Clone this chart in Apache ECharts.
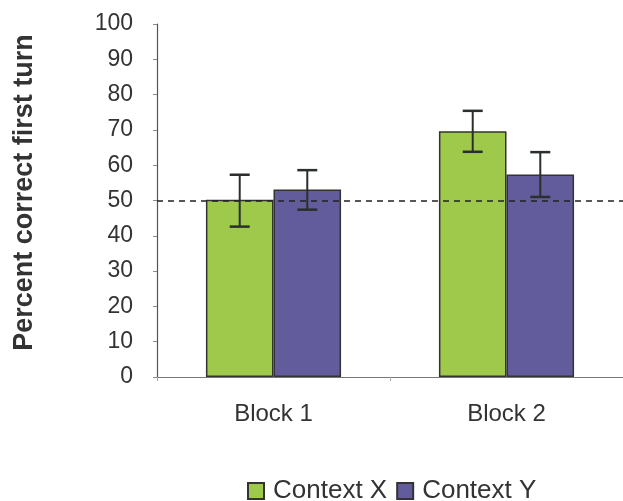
<!DOCTYPE html>
<html>
<head>
<meta charset="utf-8">
<script src="https://cdn.jsdelivr.net/npm/echarts@6/dist/echarts.min.js"></script>
<style>
  html, body { margin: 0; padding: 0; background: #fff; }
  #chart { width: 623px; height: 501px; }
</style>
</head>
<body>
<div id="chart"></div>
<script>
const categories = ['Block 1', 'Block 2']
const seriesNames = ['Context X', 'Context Y']
const contextX = [50.2, 69.6]
const contextY = [53.1, 57.4]
// error bar low / high per category
const contextXLow = [42.6, 63.8]
const contextXHigh = [57.3, 75.4]
const contextYLow = [47.4, 51.0]
const contextYHigh = [58.6, 63.7]
const chanceLevel = 50

const green = '#9fc94b'
const purple = '#625c9c'
const font = 'Liberation Sans, Arial, sans-serif'

const BAR_GAP_CAT = 0.42 // barCategoryGap share

function errorSeries(name, low, high, side) {
  return {
    name: name + ' err',
    type: 'custom',
    z: 5,
    silent: true,
    data: low.map((l, i) => [i, l, high[i]]),
    renderItem(params, api) {
      const i = api.value(0)
      const bandW = api.size([1, 0])[0]
      const barW = bandW * (1 - BAR_GAP_CAT) / 2
      const c = api.coord([i, 0])[0] + side * barW / 2
      const yLo = api.coord([i, api.value(1)])[1]
      const yHi = api.coord([i, api.value(2)])[1]
      const cap = 10
      const style = { stroke: '#2b2f2b', lineWidth: 2 }
      return {
        type: 'group',
        children: [
          { type: 'line', shape: { x1: c, y1: yLo, x2: c, y2: yHi }, style },
          { type: 'line', shape: { x1: c - cap, y1: yHi, x2: c + cap, y2: yHi }, style: { stroke: '#2b2f2b', lineWidth: 2.5 } },
          { type: 'line', shape: { x1: c - cap, y1: yLo, x2: c + cap, y2: yLo }, style: { stroke: '#2b2f2b', lineWidth: 2.5 } },
        ],
      }
    },
  }
}

const chart = echarts.init(document.getElementById('chart'))
chart.setOption({
  animation: false,
  grid: { left: 157, right: 0, top: 24, bottom: 124 },
  legend: {
    data: seriesNames,
    top: 473,
    left: 242,
    icon: 'rect',
    itemWidth: 16,
    itemHeight: 16,
    itemGap: 9,
    textStyle: { fontFamily: font, fontSize: 26, color: '#333', padding: [0, 0, 0, 4] },
  },
  xAxis: {
    type: 'category',
    data: categories,
    axisLine: { lineStyle: { color: '#777', width: 1 } },
    axisTick: { show: true, alignWithLabel: false, length: 4, lineStyle: { color: '#aaa' } },
    axisLabel: { fontFamily: font, fontSize: 24, color: '#333', margin: 25 },
  },
  yAxis: {
    type: 'value',
    min: 0,
    max: 100,
    interval: 10,
    name: 'Percent correct first turn',
    nameLocation: 'middle',
    nameGap: 119,
    nameTextStyle: { fontFamily: font, fontSize: 27, fontWeight: 'bold', color: '#333', padding: [0, 0, 0, 16] },
    axisLine: { show: true, lineStyle: { color: '#555', width: 1.2 } },
    axisTick: { show: true, inside: false, length: 4, lineStyle: { color: '#888' } },
    splitLine: { show: false },
    axisLabel: { fontFamily: font, fontSize: 23, color: '#333', margin: 24 },
  },
  series: [
    {
      name: seriesNames[0],
      type: 'bar',
      data: contextX,
      barGap: 0,
      barCategoryGap: '42%',
      itemStyle: { color: green, borderColor: '#333', borderWidth: 1.5 },
      markLine: {
        silent: true,
        symbol: 'none',
        label: { show: false },
        lineStyle: { color: '#222', type: [6, 5], width: 1.5 },
        data: [{ yAxis: chanceLevel }],
        z: 10,
      },
    },
    {
      name: seriesNames[1],
      type: 'bar',
      data: contextY,
      barGap: 0,
      barCategoryGap: '42%',
      itemStyle: { color: purple, borderColor: '#333', borderWidth: 1.5 },
    },
    errorSeries(seriesNames[0], contextXLow, contextXHigh, -1),
    errorSeries(seriesNames[1], contextYLow, contextYHigh, 1),
  ],
})
</script>
</body>
</html>
